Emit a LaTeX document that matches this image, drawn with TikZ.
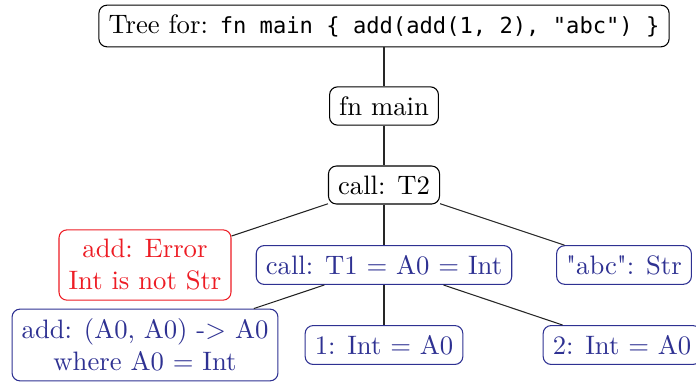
\documentclass[tikz,border=0pt]{standalone}
\usepackage{fontspec}
\setmonofont[Scale=0.83]{DejaVu Sans Mono}
\definecolor{tyblue}{RGB}{46,49,146}
\definecolor{tyred}{RGB}{237,28,36}
\begin{document}
\begin{tikzpicture}[x=0.375pt,y=-0.375pt,
  box/.style={draw, rounded corners=3pt, inner sep=3.6pt, align=center},
  ok/.style={box, draw=tyblue, text=tyblue},
  bad/.style={box, draw=tyred, text=tyred},
  edge/.style={draw=black!85, line width=0.4pt}]
\useasboundingbox (0,0) rectangle (696,381);

\node[box] (root) at (384,26) {Tree for: \texttt{fn main \{ add(add(1, 2), "abc") \}}};
\node[box] (main) at (384,106) {fn main};
\node[box] (t2) at (384,185) {call: T2};
\node[bad] (err) at (145,265) {add: Error\\Int is not Str};
\node[ok] (t1) at (384,265) {call: T1 = A0 = Int};
\node[ok] (abc) at (624,265) {\textquotedbl abc\textquotedbl: Str};
\node[ok] (add) at (145,345) {add: (A0, A0) -> A0\\where A0 = Int};
\node[ok] (one) at (384,345) {1: Int = A0};
\node[ok] (two) at (622,345) {2: Int = A0};

\path[edge] (root) -- (main);
\path[edge] (main) -- (t2);
\path[edge] (t2) -- (err);
\path[edge] (t2) -- (t1);
\path[edge] (t2) -- (abc);
\path[edge] (t1) -- (add);
\path[edge] (t1) -- (one);
\path[edge] (t1) -- (two);
\end{tikzpicture}
\end{document}
